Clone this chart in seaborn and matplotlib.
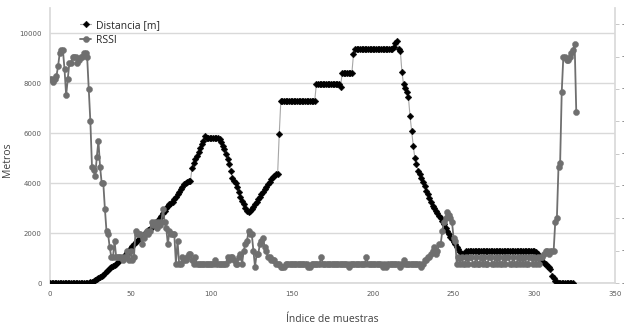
import matplotlib
matplotlib.use("Agg")
import matplotlib.pyplot as plt
import seaborn as sns
import pandas as pd

# Distance per sample index, in metres
distancia = (
    [0] * 25
    + [30, 60, 100, 130, 160, 200, 230, 280, 330, 400,
       470, 540, 600, 660, 700, 740, 780, 830, 880, 950,
       1020, 1100, 1180, 1260, 1340, 1420, 1500, 1570, 1640, 1700,
       1760, 1820, 1880, 1940, 2000, 2060, 2120, 2180, 2240, 2300,
       2380, 2460, 2540, 2620, 2700, 2800, 2900, 3000, 3100, 3180,
       3200, 3260, 3350, 3450, 3550, 3650, 3750, 3850, 3950, 4000,
       4050, 4080, 4100, 4600, 4800, 4950, 5100, 5250, 5400, 5550,
       5700, 5900]
    + [5800] * 8
    + [5750, 5650, 5500, 5350, 5150, 4950, 4750, 4500, 4200, 4100,
       4000, 3850, 3650, 3450, 3300, 3150, 3000, 2900, 2850, 2900,
       2950, 3050, 3150, 3250, 3350, 3450, 3550, 3650, 3750, 3850,
       3950, 4050, 4150, 4250, 4300, 4350, 4350, 5950]
    + [7300] * 22
    + [7950] * 15
    + [7850]
    + [8400] * 7
    + [9150]
    + [9350] * 24
    + [9450, 9600, 9700, 9350, 9300, 8450, 7950, 7800, 7650, 7450,
       6700, 6100, 5500, 5000, 4750, 4500, 4350, 4200, 4050, 3900,
       3700, 3550, 3400, 3250, 3100, 3000, 2900, 2800, 2700, 2600,
       2500, 2350, 2200, 2100, 1950, 1850, 1750, 1650, 1550, 1450,
       1350, 1250, 1150, 1100, 1200, 1300]
    + [1300] * 42
    + [1250, 1150, 1050, 950, 900, 800, 750, 700, 650, 550,
       300, 200, 100, 50]
    + [0] * 10
)

# Received signal strength per sample index, in dBm
rssi = (
    [-37, -37, -38, -37, -36, -33, -29, -28, -28, -34,
     -42, -37, -32, -32, -30, -30, -30, -32, -31, -30,
     -30, -29, -29, -30, -40, -50, -64, -65, -67, -61,
     -56, -64, -69, -69, -77, -84, -85, -89, -92, -92,
     -87, -92, -92, -92, -92, -93, -92, -92, -90, -93,
     -90, -93, -92, -84, -85, -85, -85, -88, -86, -85,
     -84, -85, -84, -81, -82, -81, -83, -81, -82, -81,
     -77, -81, -83, -88, -84, -85, -85, -85, -94, -87,
     -94, -94, -92, -93, -93, -92, -91, -91, -93, -94,
     -92, -94]
    + [-94] * 10
    + [-93]
    + [-94] * 7
    + [-92, -93, -92, -92, -93, -94, -94, -92, -91, -94,
       -90, -88, -87, -84, -85, -85, -90, -95, -91, -91,
       -88, -87, -86, -89, -90, -92, -92, -93, -93, -93,
       -94, -94, -94, -95, -95, -95]
    + [-94] * 14
    + [-95, -95]
    + [-94] * 6
    + [-92]
    + [-94] * 16
    + [-95]
    + [-94] * 10
    + [-92]
    + [-94] * 9
    + [-95, -94, -95]
    + [-94] * 8
    + [-95, -94, -93]
    + [-94] * 10
    + [-95, -94, -93, -93, -92, -92, -91, -90, -89, -91,
       -90, -88, -88, -84, -81, -80, -78, -79, -80, -81,
       -86, -87, -94]
    + [-92, -94, -92, -94, -94, -92, -94, -92, -92, -94,
       -94, -92, -94, -94, -92, -94, -92, -94, -94, -92,
       -92, -94, -94, -92, -94, -92, -94, -94, -92, -94,
       -92, -92, -94, -94, -92, -94, -94, -92, -94, -92,
       -94, -92, -94, -94, -92, -92, -94, -92, -94, -92,
       -94]
    + [-92, -92, -91, -90, -90, -91, -90, -90, -90, -81,
       -80, -64, -63, -41, -30, -30, -31, -31, -30, -29,
       -28, -26, -47]
)

x_ticks = [0, 50, 100, 150, 200, 250, 300, 350]
y_ticks = [0, 2000, 4000, 6000, 8000, 10000]
rssi_ticks = [-100, -90, -80, -70, -60, -50, -40, -30, -20]

df_dist = pd.DataFrame({"idx": range(len(distancia)), "val": distancia})
df_rssi = pd.DataFrame({"idx": range(len(rssi)), "val": rssi})

sns.set_theme(style="white")
plt.rcParams["font.family"] = ["Open Sans", "DejaVu Sans"]

fig = plt.figure(figsize=(6.24, 3.27), dpi=100)
ax = fig.add_axes([50 / 624, 1 - 283 / 327, 565 / 624, 275 / 327])
ax2 = ax.twinx()

grid_c = "#d9d9d9"
tick_c = "#595959"

sns.lineplot(data=df_dist, x="idx", y="val", ax=ax, color="#a6a6a6",
             linewidth=0.8, marker="D", markersize=3.4,
             markerfacecolor="black", markeredgecolor="black",
             markeredgewidth=0.3, label="Distancia [m]", legend=False,
             zorder=3)
sns.lineplot(data=df_rssi, x="idx", y="val", ax=ax2, color="#6f6f6f",
             linewidth=1.3, marker="o", markersize=4.4,
             markerfacecolor="#6f6f6f", markeredgecolor="#6f6f6f",
             markeredgewidth=0.3, label="RSSI", legend=False, zorder=3)

ax.set_xlim(0, 350)
ax.set_ylim(0, 11000)
ax2.set_ylim(-100, -15)
ax.set_xticks(x_ticks)
ax.set_yticks(y_ticks)
ax2.set_yticks(rssi_ticks)

ax.yaxis.grid(True, color=grid_c, linewidth=1.0)
ax.set_axisbelow(True)
ax.tick_params(axis="both", length=0, labelsize=5, labelcolor=tick_c, pad=6)
for lab in ax.get_xticklabels() + ax.get_yticklabels():
    lab.set_family("DejaVu Sans")
ax2.tick_params(axis="y", length=3, width=0.6, color="#bfbfbf",
                labelsize=5, labelcolor=tick_c, pad=2)

for side in ("top", "right"):
    ax.spines[side].set_visible(False)
for side in ("top", "left", "bottom"):
    ax2.spines[side].set_visible(False)
ax.spines["left"].set_color(grid_c)
ax.spines["bottom"].set_color(grid_c)
ax2.spines["right"].set_color(grid_c)

ax.set_xlabel("Índice de muestras", fontsize=7.5, color="#404040", labelpad=12)
ax.set_ylabel("Metros", fontsize=7.5, color="#404040")
ax.yaxis.set_label_coords(-37 / 565, 0.45)
ax2.set_ylabel("")

handles = ax.get_lines()[:1] + ax2.get_lines()[:1]
fig.legend(handles, ["Distancia [m]", "RSSI"], loc="upper left",
           bbox_to_anchor=(80 / 624, 1 - 20 / 327), frameon=False,
           fontsize=7.5, handlelength=1.1, handletextpad=0.4,
           labelspacing=0.35, borderaxespad=0, borderpad=0,
           labelcolor="#262626")

fig.savefig("out.png", dpi=100)
